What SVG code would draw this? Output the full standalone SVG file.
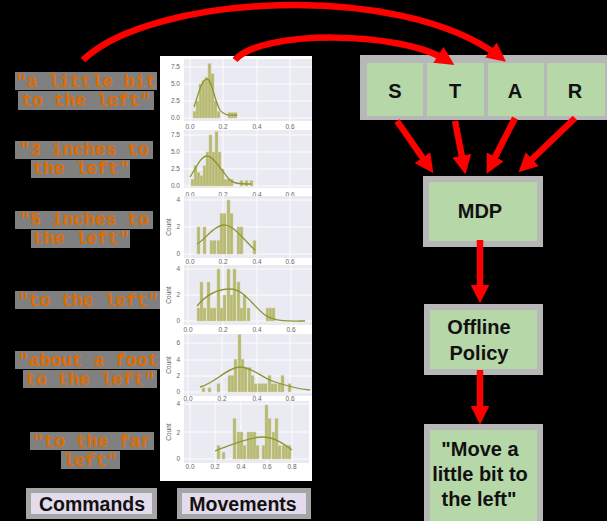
<svg xmlns="http://www.w3.org/2000/svg" width="607" height="521" viewBox="0 0 607 521">
<style>
.cmd{font-family:"Liberation Mono",monospace;font-weight:bold;font-size:18px;fill:#e06c00;text-anchor:middle}
.hl{fill:#808080}
.plot{fill:#eaeaf2}
.grid{stroke:#ffffff;stroke-width:0.9;fill:none}
.bar{fill:#b7b871;stroke:#d2d2a4;stroke-width:0.5}
.kde{fill:none;stroke:#8c9632;stroke-width:1.3}
.tick{font-family:"Liberation Sans",Arial,sans-serif;font-size:6.5px;fill:#666666}
.tx{text-anchor:middle}
.ty{text-anchor:end}
.box{fill:#b6d7a8;stroke:#b7b7b7;stroke-width:6}
.lbl{font-family:"Liberation Sans",Arial,sans-serif;font-weight:bold;font-size:20px;fill:#111111;text-anchor:middle}
.cap{fill:#e4dcec;stroke:#a6a6a6;stroke-width:5}
.capt{font-family:"Liberation Sans",Arial,sans-serif;font-weight:bold;font-size:19.5px;fill:#111111;text-anchor:middle}
.arr{fill:none;stroke:#ff0000;stroke-width:6.5;marker-end:url(#ah)}
</style>
<defs>
<marker id="ah" viewBox="0 0 10 10" refX="6" refY="5" markerUnits="userSpaceOnUse" markerWidth="19" markerHeight="19" orient="auto">
<path d="M0,0 L10,5 L0,10 z" fill="#ff0000"/>
</marker>
</defs>
<rect x="0" y="0" width="607" height="521" fill="#000000"/>

<g id="commands">
<rect class="hl" x="15" y="72" width="142" height="18"/>
<rect class="hl" x="18" y="91" width="136" height="19"/>
<text class="cmd" x="86" y="87">"a little bit</text>
<text class="cmd" x="86" y="106">to the left"</text>
<rect class="hl" x="15" y="141" width="138" height="18"/>
<rect class="hl" x="31" y="160" width="99" height="18"/>
<text class="cmd" x="84" y="155">"3 inches to</text>
<text class="cmd" x="81" y="174">the left"</text>
<rect class="hl" x="15" y="211" width="138" height="18"/>
<rect class="hl" x="31" y="230" width="99" height="18"/>
<text class="cmd" x="84" y="225">"5 inches to</text>
<text class="cmd" x="81" y="244">the left"</text>
<rect class="hl" x="15" y="291" width="145" height="18"/>
<text class="cmd" x="88" y="306">"to the left"</text>
<rect class="hl" x="15" y="351" width="146" height="18"/>
<rect class="hl" x="23" y="370" width="134" height="18"/>
<text class="cmd" x="88" y="366">"about a foot</text>
<text class="cmd" x="90" y="385">to the left"</text>
<rect class="hl" x="30" y="432" width="124" height="18"/>
<rect class="hl" x="61" y="451" width="59" height="18"/>
<text class="cmd" x="92" y="447">"to the far</text>
<text class="cmd" x="90" y="466">left"</text>
</g>

<g id="movements">
<rect x="160" y="56" width="152" height="425" fill="#ffffff"/>
<!-- plot 1 -->
<rect class="plot" x="184" y="59" width="128" height="62"/>
<path class="grid" d="M190,59V121M223,59V121M257,59V121M290,59V121M184,67H312M184,84H312M184,101H312M184,118H312"/>
<g class="bar">
<rect x="193" y="111.2" width="3" height="6.8"/><rect x="196" y="101" width="3" height="17"/><rect x="199" y="84" width="3" height="34"/><rect x="202" y="80.6" width="3" height="37.4"/><rect x="205" y="77.2" width="3" height="40.8"/><rect x="208" y="63.6" width="3" height="54.4"/><rect x="211" y="73.8" width="3" height="44.2"/><rect x="214" y="101" width="3" height="17"/><rect x="217" y="111.2" width="3" height="6.8"/><rect x="228" y="112.6" width="3" height="5.4"/><rect x="231" y="112.6" width="3" height="5.4"/><rect x="234" y="112.6" width="3" height="5.4"/>
</g>
<path class="kde" d="M194,107 C199,92 202,79 207,79 C212,79 214,100 220,110 C224,116 230,115 237,115"/>
<g class="tick">
<text class="ty" x="180" y="69">7.5</text><text class="ty" x="180" y="86">5.0</text><text class="ty" x="180" y="103">2.5</text><text class="ty" x="180" y="120">0.0</text>
<text class="tx" x="190" y="129">0.0</text><text class="tx" x="223" y="129">0.2</text><text class="tx" x="257" y="129">0.4</text><text class="tx" x="290" y="129">0.6</text>
</g>
<!-- plot 2 -->
<rect class="plot" x="184" y="130" width="128" height="58"/>
<path class="grid" d="M190,130V188M223,130V188M257,130V188M290,130V188M184,135H312M184,152H312M184,169H312M184,186H312"/>
<g class="bar">
<rect x="191" y="179.2" width="3" height="6.8"/><rect x="194" y="165.6" width="3" height="20.4"/><rect x="197" y="172.4" width="3" height="13.6"/><rect x="200" y="175.8" width="3" height="10.2"/><rect x="203" y="165.6" width="3" height="20.4"/><rect x="206" y="152" width="3" height="34"/><rect x="209" y="135" width="3" height="51"/><rect x="212" y="152" width="3" height="34"/><rect x="215" y="131.6" width="3" height="54.4"/><rect x="218" y="152" width="3" height="34"/><rect x="221" y="169" width="3" height="17"/><rect x="224" y="179.2" width="3" height="6.8"/><rect x="227" y="179.2" width="3" height="6.8"/><rect x="230" y="179.2" width="3" height="6.8"/><rect x="240" y="180.6" width="3" height="5.4"/><rect x="245" y="180.6" width="3" height="5.4"/><rect x="250" y="180.6" width="3" height="5.4"/>
</g>
<path class="kde" d="M190,177 C196,168 201,156 207,156 C213,156 220,168 228,178 C233,184 240,184 251,184"/>
<g class="tick">
<text class="ty" x="180" y="137">7.5</text><text class="ty" x="180" y="154">5.0</text><text class="ty" x="180" y="171">2.5</text><text class="ty" x="180" y="188">0.0</text>
<text class="tx" x="190" y="197">0.0</text><text class="tx" x="223" y="197">0.2</text><text class="tx" x="257" y="197">0.4</text><text class="tx" x="290" y="197">0.6</text>
</g>
<!-- plot 3 -->
<rect class="plot" x="184" y="196" width="128" height="62"/>
<path class="grid" d="M190,196V258M223,196V258M257,196V258M290,196V258M184,200H312M184,227H312M184,254H312"/>
<g class="bar">
<rect x="197" y="227" width="3" height="27"/><rect x="203" y="227" width="3" height="27"/><rect x="210" y="240.5" width="3" height="13.5"/><rect x="213" y="240.5" width="3" height="13.5"/><rect x="217" y="240.5" width="3" height="13.5"/><rect x="220" y="213.5" width="3" height="40.5"/><rect x="223" y="213.5" width="3" height="40.5"/><rect x="227" y="200" width="3" height="54"/><rect x="230" y="213.5" width="3" height="40.5"/><rect x="237" y="227" width="3" height="27"/><rect x="240" y="227" width="3" height="27"/><rect x="253" y="240.5" width="3" height="13.5"/>
</g>
<path class="kde" d="M197,244 C205,240 213,226 223,225 C233,224 240,236 255,250"/>
<g class="tick">
<text class="ty" x="180" y="202">4</text><text class="ty" x="180" y="229">2</text><text class="ty" x="180" y="256">0</text>
<text class="tx" x="190" y="264">0.0</text><text class="tx" x="223" y="264">0.2</text><text class="tx" x="257" y="264">0.4</text><text class="tx" x="290" y="264">0.6</text>
<text class="tx" transform="translate(171,227) rotate(-90)">Count</text>
</g>
<!-- plot 4 -->
<rect class="plot" x="184" y="265" width="128" height="60"/>
<path class="grid" d="M188,265V325M223,265V325M257,265V325M291,265V325M184,269H312M184,295H312M184,321H312"/>
<g class="bar">
<rect x="197" y="308" width="3" height="13"/><rect x="200" y="282" width="3" height="39"/><rect x="203" y="308" width="3" height="13"/><rect x="207" y="282" width="3" height="39"/><rect x="210" y="308" width="3" height="13"/><rect x="213" y="308" width="3" height="13"/><rect x="217" y="269" width="3" height="52"/><rect x="220" y="308" width="3" height="13"/><rect x="223" y="295" width="3" height="26"/><rect x="227" y="269" width="3" height="52"/><rect x="230" y="295" width="3" height="26"/><rect x="233" y="269" width="3" height="52"/><rect x="237" y="282" width="3" height="39"/><rect x="240" y="308" width="3" height="13"/><rect x="243" y="295" width="3" height="26"/><rect x="247" y="308" width="3" height="13"/><rect x="266" y="308" width="3" height="13"/><rect x="269" y="308" width="3" height="13"/><rect x="272" y="308" width="3" height="13"/>
</g>
<path class="kde" d="M197,306 C207,294 218,289 230,289 C244,289 252,305 265,315 C275,322 290,321 305,321"/>
<g class="tick">
<text class="ty" x="180" y="271">4</text><text class="ty" x="180" y="297">2</text><text class="ty" x="180" y="323">0</text>
<text class="tx" x="188" y="332">0.0</text><text class="tx" x="223" y="332">0.2</text><text class="tx" x="257" y="332">0.4</text><text class="tx" x="291" y="332">0.6</text>
<text class="tx" transform="translate(171,295) rotate(-90)">Count</text>
</g>
<!-- plot 5 -->
<rect class="plot" x="184" y="334" width="128" height="62"/>
<path class="grid" d="M188,334V396M222,334V396M257,334V396M290,334V396M184,343H312M184,360H312M184,376H312M184,392H312"/>
<g class="bar">
<rect x="202" y="387.9" width="3" height="4.1"/><rect x="208" y="387.9" width="3" height="4.1"/><rect x="217" y="383.8" width="3" height="8.2"/><rect x="228" y="375.6" width="3" height="16.4"/><rect x="231" y="375.6" width="3" height="16.4"/><rect x="234" y="359.2" width="3" height="32.8"/><rect x="238" y="334.6" width="3" height="57.4"/><rect x="241" y="359.2" width="3" height="32.8"/><rect x="244" y="367.4" width="3" height="24.6"/><rect x="248" y="367.4" width="3" height="24.6"/><rect x="251" y="375.6" width="3" height="16.4"/><rect x="254" y="383.8" width="3" height="8.2"/><rect x="258" y="383.8" width="3" height="8.2"/><rect x="261" y="383.8" width="3" height="8.2"/><rect x="264" y="383.8" width="3" height="8.2"/><rect x="268" y="375.6" width="3" height="16.4"/><rect x="271" y="383.8" width="3" height="8.2"/><rect x="274" y="383.8" width="3" height="8.2"/><rect x="278" y="383.8" width="3" height="8.2"/><rect x="281" y="375.6" width="3" height="16.4"/><rect x="288" y="383.8" width="3" height="8.2"/>
</g>
<path class="kde" d="M200,387 C215,383 228,367 240,367 C252,367 262,378 275,382 C290,387 300,389 310,390"/>
<g class="tick">
<text class="ty" x="180" y="345">6</text><text class="ty" x="180" y="362">4</text><text class="ty" x="180" y="378">2</text><text class="ty" x="180" y="394">0</text>
<text class="tx" x="188" y="401">0.0</text><text class="tx" x="222" y="401">0.2</text><text class="tx" x="257" y="401">0.4</text><text class="tx" x="290" y="401">0.6</text>
<text class="tx" transform="translate(171,365) rotate(-90)">Count</text>
</g>
<!-- plot 6 -->
<rect class="plot" x="184" y="401" width="125" height="62"/>
<path class="grid" d="M190,401V463M215,401V463M241,401V463M267,401V463M292,401V463M184,404H309M184,432H309M184,459H309"/>
<g class="bar">
<rect x="217" y="445.5" width="3" height="13.5"/><rect x="222" y="452.25" width="3" height="6.75"/><rect x="233" y="418.5" width="3" height="40.5"/><rect x="237" y="432" width="3" height="27"/><rect x="240" y="432" width="3" height="27"/><rect x="243" y="445.5" width="3" height="13.5"/><rect x="247" y="432" width="3" height="27"/><rect x="250" y="432" width="3" height="27"/><rect x="253" y="432" width="3" height="27"/><rect x="256" y="445.5" width="3" height="13.5"/><rect x="262" y="445.5" width="3" height="13.5"/><rect x="265" y="405" width="3" height="54"/><rect x="268" y="418.5" width="3" height="40.5"/><rect x="272" y="432" width="3" height="27"/><rect x="275" y="418.5" width="3" height="40.5"/><rect x="278" y="445.5" width="3" height="13.5"/><rect x="282" y="445.5" width="3" height="13.5"/><rect x="285" y="445.5" width="3" height="13.5"/><rect x="288" y="445.5" width="3" height="13.5"/>
</g>
<path class="kde" d="M215,451 C228,446 248,437 262,437 C275,437 284,444 292,450"/>
<g class="tick">
<text class="ty" x="180" y="406">4</text><text class="ty" x="180" y="435">2</text><text class="ty" x="180" y="461">0</text>
<text class="tx" x="190" y="469">0.0</text><text class="tx" x="215" y="469">0.2</text><text class="tx" x="241" y="469">0.4</text><text class="tx" x="267" y="469">0.6</text><text class="tx" x="292" y="469">0.8</text>
<text class="tx" transform="translate(171,432) rotate(-90)">Count</text>
</g>
</g>

<g id="caption-commands">
<rect class="cap" x="28.5" y="490.5" width="126" height="26"/>
<text class="capt" x="92" y="511">Commands</text>
</g>
<g id="caption-movements">
<rect class="cap" x="179.5" y="490.5" width="129" height="26"/>
<text class="capt" x="243" y="511">Movements</text>
</g>

<g id="star">
<rect x="360" y="55" width="250" height="65" fill="#b7b7b7"/>
<rect x="367" y="63" width="56" height="53" fill="#b6d7a8"/>
<rect x="427" y="63" width="57" height="53" fill="#b6d7a8"/>
<rect x="488" y="63" width="56" height="53" fill="#b6d7a8"/>
<rect x="547" y="63" width="58" height="53" fill="#b6d7a8"/>
</g>
<g id="node-S"><text class="lbl" x="395" y="98">S</text></g>
<g id="node-T"><text class="lbl" x="455" y="98">T</text></g>
<g id="node-A"><text class="lbl" x="515" y="98">A</text></g>
<g id="node-R"><text class="lbl" x="575" y="98">R</text></g>

<g id="node-MDP">
<rect class="box" x="426" y="179" width="114" height="65"/>
<text class="lbl" x="480" y="218">MDP</text>
</g>
<g id="node-policy">
<rect class="box" x="427" y="307" width="113" height="65"/>
<text class="lbl" x="479" y="334">Offline</text>
<text class="lbl" x="479" y="360">Policy</text>
</g>
<g id="node-output">
<rect class="box" x="427" y="427" width="113" height="100"/>
<text class="lbl" x="480" y="456">"Move a</text>
<text class="lbl" x="480" y="481">little bit to</text>
<text class="lbl" x="479" y="506">the left"</text>
</g>

<g id="connectors">
<path class="arr" d="M83,60 C150,-5 400,-20 500,57"/>
<path class="arr" d="M235,60 C260,30 400,30 448,61"/>
<path class="arr" d="M397,121 L429,167"/>
<path class="arr" d="M455,121 L464,167"/>
<path class="arr" d="M515,118 L490,167"/>
<path class="arr" d="M575,118 L524,167"/>
<path class="arr" d="M480,240 L480,296"/>
<path class="arr" d="M480,370 L480,417"/>
</g>
</svg>
